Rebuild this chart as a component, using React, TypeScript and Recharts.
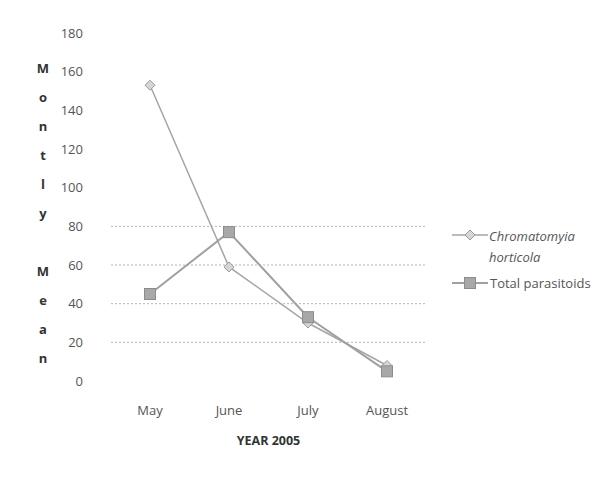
import { LineChart, Line, XAxis, YAxis, CartesianGrid } from "recharts";

const MONTHS = ["May", "June", "July", "August"];
const CHROMATOMYIA = [153, 59, 30, 8];
const PARASITOIDS = [45, 77, 33, 5];
const Y_TICKS = [0, 20, 40, 60, 80, 100, 120, 140, 160, 180];
const GRID_VALUES = [20, 40, 60, 80];
const Y_LETTERS = ["M", "o", "n", "t", "l", "y", "", "M", "e", "a", "n"];

const DATA = MONTHS.map((m, i) => ({
  month: m,
  chromatomyia: CHROMATOMYIA[i],
  parasitoids: PARASITOIDS[i],
}));

const FONT = "'Open Sans', sans-serif";

const Diamond = (props: any) => {
  const { cx, cy } = props;
  if (cx == null || cy == null) return null;
  const r = 5;
  return (
    <path
      d={`M${cx},${cy - r}L${cx + r},${cy}L${cx},${cy + r}L${cx - r},${cy}Z`}
      fill="#d6d6d6"
      stroke="#9a9a9a"
      strokeWidth={1}
    />
  );
};

const Square = (props: any) => {
  const { cx, cy } = props;
  if (cx == null || cy == null) return null;
  const s = 5.5;
  return <rect x={cx - s} y={cy - s} width={s * 2} height={s * 2} fill="#a8a8a8" stroke="#8c8c8c" strokeWidth={1} />;
};

const YLabel = () => (
  <g>
    {Y_LETTERS.map((ch, i) => (
      <text
        key={i}
        x={43}
        y={68 + i * 29}
        textAnchor="middle"
        dominantBaseline="central"
        fontFamily={FONT}
        fontWeight={700}
        fontSize={13}
        fill="#333"
      >
        {ch}
      </text>
    ))}
  </g>
);

const XLabel = (props: any) => {
  const { viewBox } = props;
  return (
    <text
      x={viewBox.x + viewBox.width / 2}
      y={440}
      textAnchor="middle"
      dominantBaseline="central"
      fontFamily={FONT}
      fontWeight={700}
      fontSize={12.5}
      fill="#333"
    >
      YEAR 2005
    </text>
  );
};

export default function App() {
  return (
    <div style={{ position: "absolute", left: 0, top: 0, width: 605, height: 492, background: "#fff", fontFamily: FONT }}>
      <LineChart width={605} height={492} data={DATA} margin={{ top: 33, right: 179, bottom: 81, left: 0 }}>
        <CartesianGrid horizontal vertical={false} horizontalValues={GRID_VALUES} stroke="#b5b5b5" strokeDasharray="2 2" />
        <XAxis
          dataKey="month"
          axisLine={false}
          tickLine={false}
          height={30}
          tickMargin={19}
          padding={{ left: 39, right: 39 }}
          tick={{ fill: "#555", fontSize: 13, fontFamily: FONT }}
          label={<XLabel />}
        />
        <YAxis
          width={111}
          domain={[0, 180]}
          ticks={Y_TICKS}
          axisLine={false}
          tickLine={false}
          tickMargin={22}
          tick={{ fill: "#555", fontSize: 13, fontFamily: FONT }}
          label={<YLabel />}
        />
        <Line
          dataKey="chromatomyia"
          stroke="#a5a5a5"
          strokeWidth={1.5}
          dot={<Diamond />}
          isAnimationActive={false}
        />
        <Line
          dataKey="parasitoids"
          stroke="#a0a0a0"
          strokeWidth={2}
          dot={<Square />}
          isAnimationActive={false}
        />
      </LineChart>
      <div style={{ position: "absolute", left: 452, top: 224, width: 153, fontSize: 13, color: "#555" }}>
        <div style={{ position: "relative", height: 46 }}>
          <svg width={36} height={12} style={{ position: "absolute", left: 0, top: 5 }}>
            <line x1={0} y1={6} x2={36} y2={6} stroke="#a5a5a5" strokeWidth={1.5} />
            <Diamond cx={18} cy={6} />
          </svg>
          <div style={{ position: "absolute", left: 37, top: 2, fontStyle: "italic", lineHeight: "21px" }}>
            Chromatomyia
            <br />
            horticola
          </div>
        </div>
        <div style={{ position: "relative", height: 24 }}>
          <svg width={36} height={14} style={{ position: "absolute", left: 0, top: 6 }}>
            <line x1={0} y1={7} x2={36} y2={7} stroke="#a0a0a0" strokeWidth={2} />
            <Square cx={18} cy={7} />
          </svg>
          <div style={{ position: "absolute", left: 38, top: 3, lineHeight: "21px" }}>Total parasitoids</div>
        </div>
      </div>
    </div>
  );
}
